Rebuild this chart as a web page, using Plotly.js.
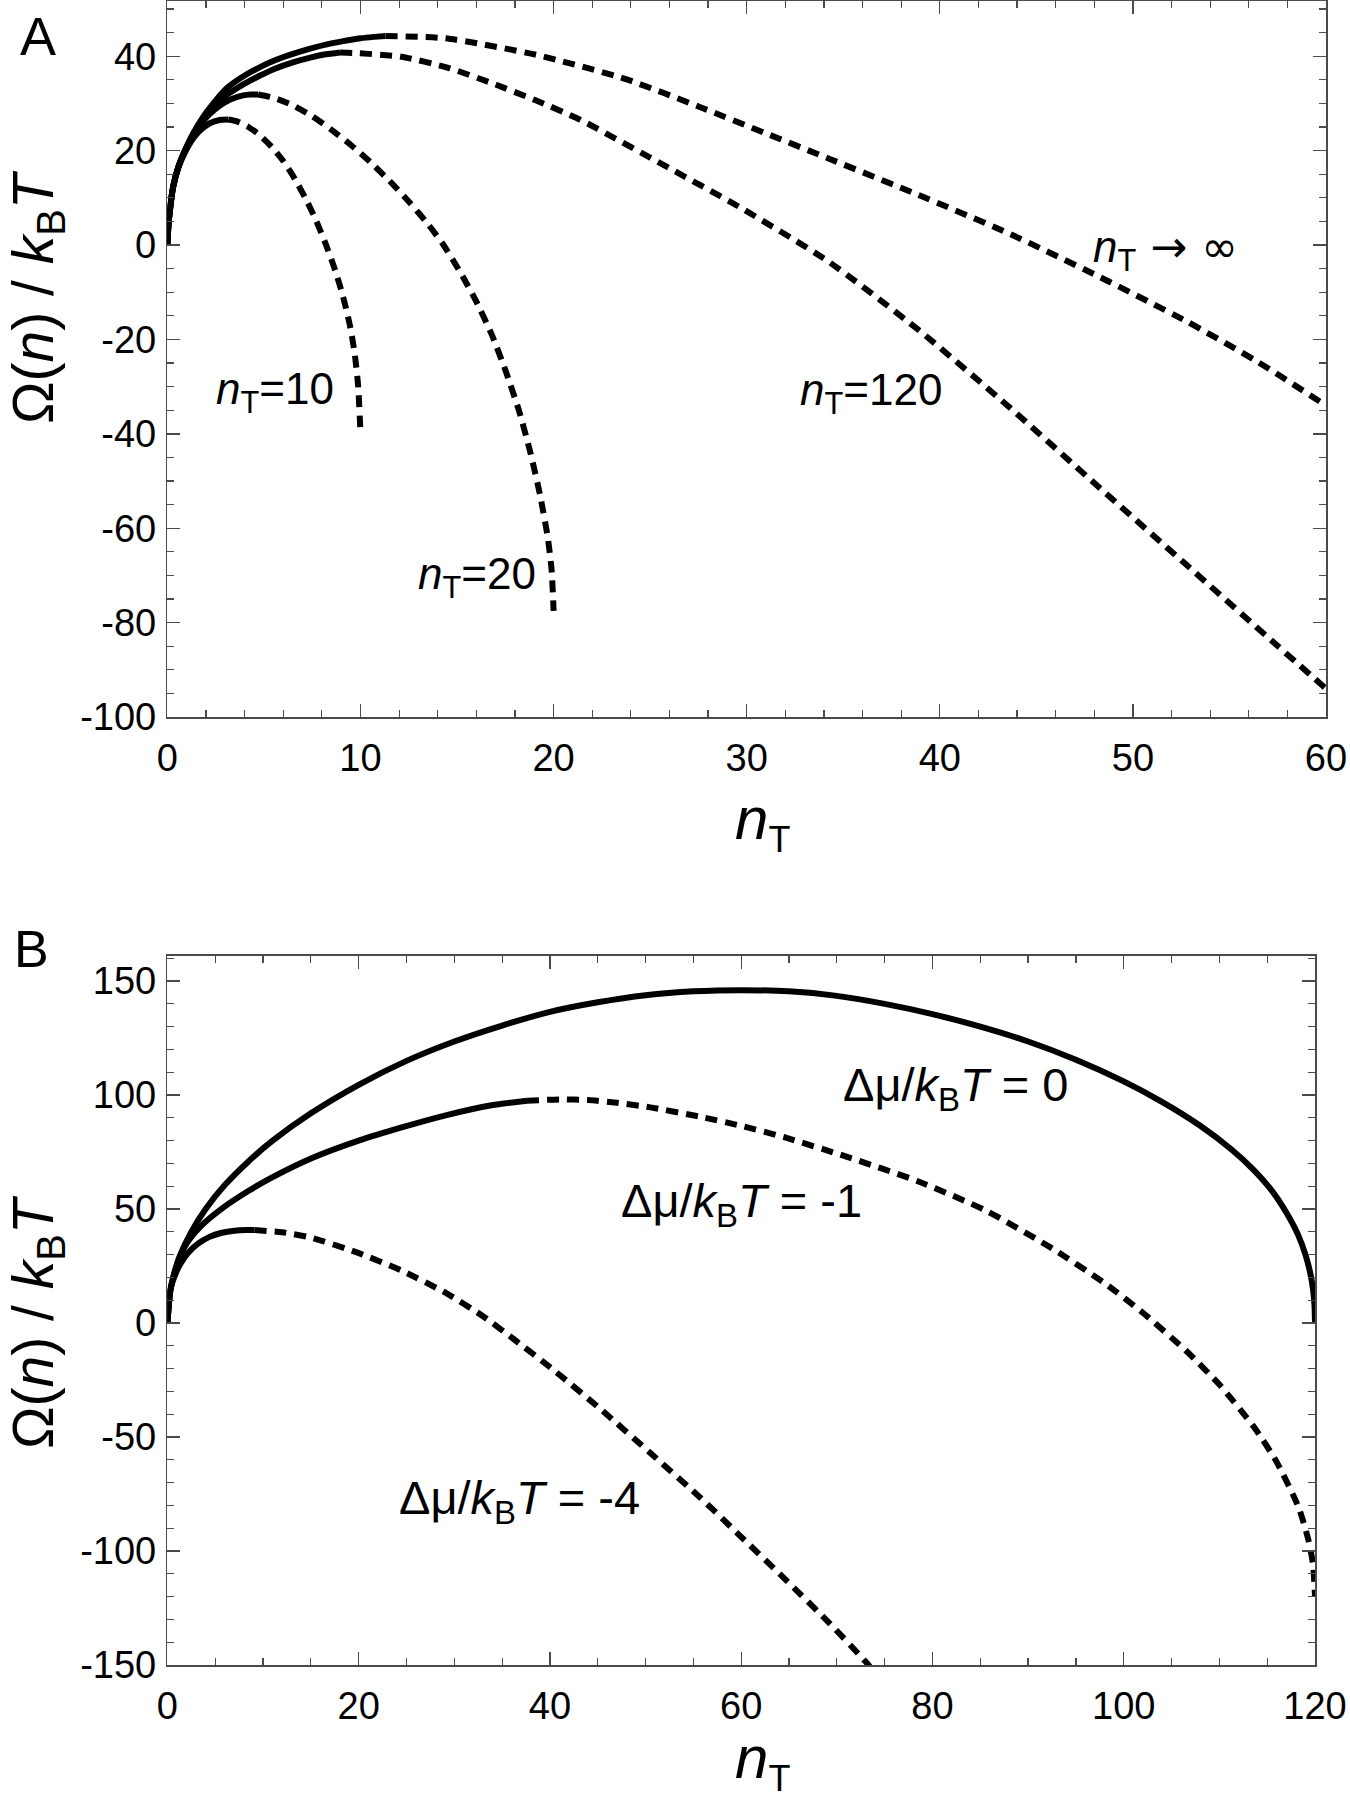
<!DOCTYPE html>
<html>
<head>
<meta charset="utf-8">
<script src="https://cdn.plot.ly/plotly-3.0.1.min.js"></script>
<style>html,body{margin:0;padding:0;background:#fff;} #chart{width:1350px;height:1800px;}</style>
</head>
<body>
<div id="chart"></div>
<script>
// ---------- Panel A data (n_T on x, Omega/kBT on y) ----------
const aInfSolidX = [0, 0.05, 0.13, 0.3, 0.57, 0.91, 1.34, 1.86, 2.38, 3.07, 4.0, 4.8, 5.6, 6.5, 7.4, 8.25, 9.1, 10.0, 10.7, 11.3];
const aInfSolidY = [0, 4, 7.4, 12.4, 16.6, 20.1, 23.7, 27.2, 30.0, 33.2, 35.9, 37.7, 39.2, 40.5, 41.6, 42.5, 43.2, 43.8, 44.1, 44.3];
const aInfDashX = [11.3, 14.4, 19.1, 23.7, 27.6, 30.9, 34.2, 38.9, 43.5, 48.1, 52.7, 56.4, 60];
const aInfDashY = [44.3, 43.8, 40.3, 35.2, 29.2, 23.8, 18.4, 10.6, 2.6, -6.4, -16.0, -24.6, -34.0];

const a120SolidX = [0, 0.05, 0.13, 0.3, 0.57, 0.91, 1.34, 1.86, 2.38, 3.07, 4.0, 4.8, 5.6, 6.5, 7.4, 8.2, 8.94];
const a120SolidY = [0, 4, 7.4, 12.4, 16.6, 20.0, 23.5, 26.8, 29.3, 31.8, 34.2, 35.9, 37.4, 38.7, 39.7, 40.4, 40.8];
const a120DashX = [8.94, 9.6, 12.1, 14.5, 16.8, 19.1, 21.4, 25.0, 29.6, 34.2, 38.9, 43.5, 48.1, 52.7, 57.4, 60];
const a120DashY = [40.8, 40.7, 39.9, 37.6, 34.3, 30.6, 26.5, 18.5, 8.1, -3.4, -18.0, -34.0, -50.8, -67.5, -84.6, -94.0];

const a20SolidX = [0, 0.05, 0.13, 0.3, 0.57, 0.91, 1.34, 1.86, 2.2, 2.7, 3.1, 3.5, 3.93, 4.3, 4.7];
const a20SolidY = [0, 4, 7.4, 12.4, 16.5, 19.9, 23.2, 26.3, 27.8, 29.5, 30.5, 31.2, 31.7, 31.9, 31.9];
const a20DashX = [4.7, 5.5, 6.5, 7.5, 8.5, 9.5, 10.5, 11.5, 12.5, 13.5, 14.3, 15.2, 16.0, 16.8, 17.5, 18.2, 18.8, 19.3, 19.7, 19.9, 20];
const a20DashY = [31.9, 31.2, 29.6, 27.3, 24.4, 21.2, 17.6, 13.6, 9.2, 4.4, 0, -6, -12, -19, -26.5, -35, -44, -53, -62, -69, -77.5];

const a10SolidX = [0, 0.05, 0.13, 0.3, 0.57, 0.91, 1.34, 1.7, 2.2, 2.7, 3.15];
const a10SolidY = [0, 4, 7.4, 12.3, 16.4, 19.6, 22.6, 24.3, 25.8, 26.5, 26.6];
const a10DashX = [3.15, 3.6, 4.2, 4.8, 5.4, 6.0, 6.6, 7.2, 7.7, 8.2, 8.7, 9.1, 9.45, 9.7, 9.88, 10];
const a10DashY = [26.6, 26.2, 25.0, 23.2, 20.8, 17.8, 14.0, 9.5, 5.2, 0.2, -5.5, -11, -17, -23, -30, -40];

// ---------- Panel B data ----------
const bMu0X = [0, 0.3, 0.7, 1.3, 2.5, 4, 6, 8.5, 11, 15, 20, 25, 30, 35, 40, 45, 50, 55, 60, 65, 70, 75, 80, 85, 90, 95, 100, 104, 108, 111.3, 113.5, 115.5, 117, 118.2, 119, 119.5, 119.8, 119.95, 120];
const bMu0Y = [0, 14, 21.5, 29.5, 40, 50, 60.5, 71, 80, 92, 104.5, 115, 123.5, 130.5, 136.5, 140.7, 143.8, 145.5, 146, 145.5, 143.5, 140, 135.5, 130, 123.5, 115.5, 106, 97, 86.5, 76, 67.5, 58, 48.5, 39, 30, 22, 14.5, 7.5, 0];

const bMu1SolidX = [0, 0.3, 0.7, 1.3, 2.1, 3.5, 5.8, 8.5, 11, 15.2, 20, 24.5, 29, 33.9, 37.6];
const bMu1SolidY = [0, 14, 21.5, 29, 35.5, 42.5, 50.5, 58, 64, 72.5, 80, 85.8, 91, 95.5, 97.5];
const bMu1DashX = [37.6, 41, 44, 47, 50.5, 55.7, 60, 64.5, 71, 78.6, 85.5, 92.6, 98, 102, 106.6, 110, 113.6, 116, 118.3, 119.3, 119.8, 120];
const bMu1DashY = [97.5, 98.1, 97.8, 96.6, 94.6, 90.5, 86.5, 81.5, 73, 62, 49.5, 32.5, 17.5, 4.5, -12.5, -27, -45.5, -61, -81, -95, -106, -120];

const bMu4SolidX = [0, 0.3, 0.7, 1.3, 2.1, 3.2, 4.4, 5.7, 7, 8.2, 9.1];
const bMu4SolidY = [0, 14.5, 20, 25.5, 30.5, 34.8, 37.8, 39.6, 40.5, 40.8, 40.8];
const bMu4DashX = [9.1, 12, 15, 19.8, 24.5, 29.2, 33, 36.2, 40.5, 45.5, 50.5, 55.7, 59.8, 64.5, 69.2, 73, 74.5];
const bMu4DashY = [40.8, 39.8, 37.5, 31, 23, 13, 3, -7, -21, -38.5, -57, -76.5, -93, -112, -131.5, -148.5, -156];

// ---------- tick labels ----------
const aXTicks = [0, 10, 20, 30, 40, 50, 60];
const aYTickVals = [-100, -80, -60, -40, -20, 0, 20, 40];
const aYTickText = ["-100", "-80", "-60", "-40", "-20", "0", "20", "40"];
const bXTicks = [0, 20, 40, 60, 80, 100, 120];
const bYTickVals = [-150, -100, -50, 0, 50, 100, 150];
const bYTickText = ["-150", "-100", "-50", "0", "50", "100", "150"];

// ---------- labels ----------
const yTitle = "Ω(<i>n</i>) / <i>k</i><sub>B</sub><i>T</i>";
const xTitle = "<i>n</i><sub><span style='font-size:36px'>T</span></sub>";
const aLabels = [
  {text: "<i>n</i><sub>T</sub>=10", x: 5.57, y: -31.2},
  {text: "<i>n</i><sub>T</sub>=20", x: 16.03, y: -70.4},
  {text: "<i>n</i><sub>T</sub>=120", x: 36.44, y: -31.4},
  {text: "<i>n</i><sub>T</sub><span style='font-family:DejaVu Sans'> → ∞</span>", x: 51.67, y: -1.0}
];
const bLabels = [
  {text: "Δμ/<i>k</i><sub>B</sub><i>T</i> = 0", x: 82.4, y: 103},
  {text: "Δμ/<i>k</i><sub>B</sub><i>T</i> = -1", x: 60.0, y: 52},
  {text: "Δμ/<i>k</i><sub>B</sub><i>T</i> = -4", x: 36.8, y: -77.9}
];

// ---------- build ----------
const W = 1350, H = 1800;
const FONT = "Liberation Sans, Arial, Helvetica, sans-serif";
const LW = 6;
const DASH = "12px,8px";
const px = v => v / W;
const py = v => 1 - v / H;

function seg(x, y, dashed, xa, ya) {
  return {
    type: "scatter", mode: "lines", x: x, y: y, xaxis: xa, yaxis: ya,
    line: {color: "#000", width: LW, dash: dashed ? DASH : "solid", shape: "spline", smoothing: 0.6},
    hoverinfo: "skip", showlegend: false
  };
}

const traces = [
  seg(aInfSolidX, aInfSolidY, false, "x", "y"),
  seg(aInfDashX, aInfDashY, true, "x", "y"),
  seg(a120SolidX, a120SolidY, false, "x", "y"),
  seg(a120DashX, a120DashY, true, "x", "y"),
  seg(a20SolidX, a20SolidY, false, "x", "y"),
  seg(a20DashX, a20DashY, true, "x", "y"),
  seg(a10SolidX, a10SolidY, false, "x", "y"),
  seg(a10DashX, a10DashY, true, "x", "y"),
  seg(bMu0X, bMu0Y, false, "x2", "y2"),
  seg(bMu1SolidX, bMu1SolidY, false, "x2", "y2"),
  seg(bMu1DashX, bMu1DashY, true, "x2", "y2"),
  seg(bMu4SolidX, bMu4SolidY, false, "x2", "y2"),
  seg(bMu4DashX, bMu4DashY, true, "x2", "y2")
];

const AX = "#4a4a4a";
function axisBase(extra) {
  return Object.assign({
    showline: true, linecolor: AX, linewidth: 1.6, mirror: "ticks",
    ticks: "inside", ticklen: 13, tickwidth: 1.4, tickcolor: AX,
    showgrid: false, zeroline: false, fixedrange: true,
    tickfont: {family: FONT, size: 38, color: "#000"}
  }, extra);
}

const layout = {
  width: W, height: H,
  margin: {l: 0, r: 0, t: 0, b: 0},
  paper_bgcolor: "#fff", plot_bgcolor: "#fff",
  showlegend: false,
  font: {family: FONT, color: "#000"},
  xaxis: axisBase({
    domain: [px(167.4), px(1326)], range: [0, 60], anchor: "y",
    tickmode: "array", tickvals: aXTicks, ticktext: aXTicks.map(String),
    minor: {tickmode: "linear", tick0: 0, dtick: 2, ticks: "inside", ticklen: 7, tickwidth: 1.2, tickcolor: AX},
    ticklabelstandoff: 7
  }),
  yaxis: axisBase({
    domain: [py(717), py(1)], range: [-100, 51.7], anchor: "x",
    tickmode: "array", tickvals: aYTickVals, ticktext: aYTickText,
    minor: {tickmode: "linear", tick0: 0, dtick: 5, ticks: "inside", ticklen: 7, tickwidth: 1.2, tickcolor: AX},
    ticklabelstandoff: 2
  }),
  xaxis2: axisBase({
    domain: [px(167.4), px(1315)], range: [0, 120], anchor: "y2",
    tickmode: "array", tickvals: bXTicks, ticktext: bXTicks.map(String),
    minor: {tickmode: "linear", tick0: 0, dtick: 5, ticks: "inside", ticklen: 7, tickwidth: 1.2, tickcolor: AX},
    ticklabelstandoff: 7
  }),
  yaxis2: axisBase({
    domain: [py(1665), py(956)], range: [-150, 161], anchor: "x2",
    tickmode: "array", tickvals: bYTickVals, ticktext: bYTickText,
    minor: {tickmode: "linear", tick0: 0, dtick: 10, ticks: "inside", ticklen: 7, tickwidth: 1.2, tickcolor: AX},
    ticklabelstandoff: 2
  }),
  annotations: []
};

// curve labels
aLabels.forEach(l => layout.annotations.push({
  text: l.text, x: l.x, y: l.y, xref: "x", yref: "y", showarrow: false,
  xanchor: "center", yanchor: "middle", font: {family: FONT, size: 44, color: "#000"}
}));
bLabels.forEach(l => layout.annotations.push({
  text: l.text, x: l.x, y: l.y, xref: "x2", yref: "y2", showarrow: false,
  xanchor: "center", yanchor: "middle", font: {family: FONT, size: 47, color: "#000"}
}));

// axis titles and panel letters
const titleFont = {family: FONT, size: 57, color: "#000"};
layout.annotations.push(
  {text: yTitle, x: px(37), y: py(297), xref: "paper", yref: "paper", showarrow: false, textangle: -90,
   xanchor: "center", yanchor: "middle", font: titleFont},
  {text: yTitle, x: px(37), y: py(1322), xref: "paper", yref: "paper", showarrow: false, textangle: -90,
   xanchor: "center", yanchor: "middle", font: titleFont},
  {text: xTitle, x: px(762), y: py(822), xref: "paper", yref: "paper", showarrow: false,
   xanchor: "center", yanchor: "middle", font: {family: FONT, size: 60, color: "#000"}},
  {text: xTitle, x: px(762), y: py(1761), xref: "paper", yref: "paper", showarrow: false,
   xanchor: "center", yanchor: "middle", font: {family: FONT, size: 60, color: "#000"}},
  {text: "A", x: px(38), y: py(36), xref: "paper", yref: "paper", showarrow: false,
   xanchor: "center", yanchor: "middle", font: {family: FONT, size: 54, color: "#000"}},
  {text: "B", x: px(31), y: py(949), xref: "paper", yref: "paper", showarrow: false,
   xanchor: "center", yanchor: "middle", font: {family: FONT, size: 52, color: "#000"}}
);

Plotly.newPlot("chart", traces, layout, {staticPlot: true, displayModeBar: false});
</script>
</body>
</html>
